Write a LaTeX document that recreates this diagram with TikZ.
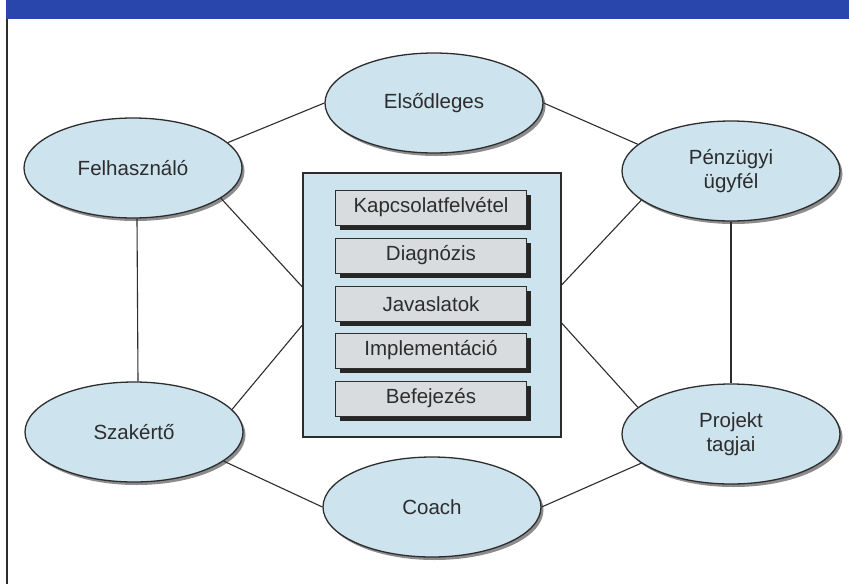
\documentclass[tikz,border=0pt]{standalone}
\usepackage{fontspec}
\setmainfont{Liberation Sans}
\usetikzlibrary{shapes.geometric,shadows}
\definecolor{bandblue}{RGB}{40,70,172}
\definecolor{lightblue}{RGB}{205,227,238}
\definecolor{boxgray}{RGB}{216,220,222}
\definecolor{ink}{RGB}{45,45,45}
\begin{document}
\begin{tikzpicture}[x=1pt,y=-1pt,
  party/.style={ellipse, draw=ink, line width=1.3pt, fill=lightblue,
    minimum width=218pt, minimum height=100pt, inner sep=0pt, align=center,
    text=ink, font=\fontsize{20.5}{24}\selectfont,
    drop shadow={shadow xshift=2.5pt, shadow yshift=-3pt, fill=black!45, opacity=1}},
  corebox/.style={rectangle, draw=ink, line width=1.2pt, fill=lightblue,
    minimum width=258pt, minimum height=264pt, inner sep=0pt},
  phase/.style={rectangle, draw=ink, line width=0.9pt, fill=boxgray,
    minimum width=191pt, minimum height=35pt, inner sep=0pt,
    text=ink, font=\fontsize{20.5}{24}\selectfont,
    drop shadow={shadow xshift=4.5pt, shadow yshift=-4.5pt, fill=black!85, opacity=1}},
  link/.style={draw=ink, line width=1.1pt}]
\useasboundingbox (0,0) rectangle (849,584);
\fill[white] (0,0) rectangle (849,584);
% title band and frame
\fill[bandblue] (6,0) rectangle (849,19);
\draw[ink, line width=1.5pt] (7,19) -- (7,584);

% central box
\node[corebox] (core) at (432,305) {};
\node[phase] (ph1) at (431,207.5) {Kapcsolatfelvétel};
\node[phase] (ph2) at (431,255.5) {Diagnózis};
\node[phase] (ph3) at (431,304) {Javaslatok};
\node[phase] (ph4) at (431,350.5) {Implementáció};
\node[phase] (ph5) at (431,398.5) {Befejezés};

% client groups
\node[party] (elso) at (434,103) {Elsődleges};
\node[party] (felh) at (133,168) {Felhasználó};
\node[party] (penz) at (731,171) {Pénzügyi\\ügyfél};
\node[party] (szak) at (134,432) {Szakértő};
\node[party] (proj) at (731,434) {Projekt\\tagjai};
\node[party] (coach) at (432,507) {Coach};

% connectors
\draw[link] (felh.15) -- (elso.west);
\draw[link] (elso.east) -- (penz.164);
\draw[link] (felh.-19) -- ([yshift=18pt]core.west);
\draw[link] (szak.13) -- ([yshift=-20pt]core.west);
\draw[link] (penz.-162) -- ([yshift=20pt]core.east);
\draw[link] (proj.164) -- ([yshift=-18pt]core.east);
\draw[link] (szak.-18) -- (coach.west);
\draw[link] (coach.east) -- (proj.-162);
\draw[link] ([xshift=4pt]felh.south) -- ([xshift=4pt]szak.north);
\draw[link] (penz.south) -- (proj.north);
\end{tikzpicture}
\end{document}
